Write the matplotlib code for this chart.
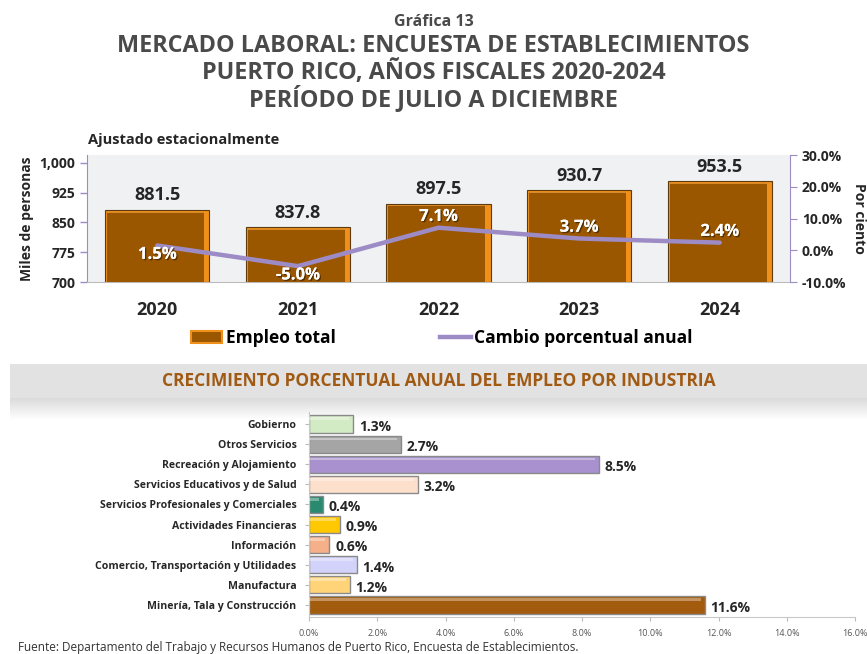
import matplotlib
matplotlib.use("Agg")
import matplotlib.pyplot as plt
import numpy as np
from matplotlib.patches import Rectangle
from matplotlib.lines import Line2D
import matplotlib.patheffects as pe

# ---------------- data ----------------
years = ["2020", "2021", "2022", "2023", "2024"]
employment = [881.5, 837.8, 897.5, 930.7, 953.5]
pct_change = [1.5, -5.0, 7.1, 3.7, 2.4]

industries = ["Minería, Tala y Construcción", "Manufactura",
              "Comercio, Transportación y Utilidades", "Información",
              "Actividades Financieras", "Servicios Profesionales y Comerciales",
              "Servicios Educativos y de Salud", "Recreación y Alojamiento",
              "Otros Servicios", "Gobierno"]
industry_growth = [11.6, 1.2, 1.4, 0.6, 0.9, 0.4, 3.2, 8.5, 2.7, 1.3]
industry_colors = ["#a35c0d", "#ffd478", "#d2d2fa", "#f5b08a", "#ffc800",
                   "#2a8a70", "#fde0cc", "#a991cf", "#a5a5a5", "#d3ebc4"]
bottom_xticks = [0, 2, 4, 6, 8, 10, 12, 14, 16]

FONT = ["Open Sans", "DejaVu Sans"]
plt.rcParams['font.family'] = FONT

TXT = "#4a4a4a"
DARK = "#262626"
PURPLE = "#9d8bc6"
BROWN = "#9a5700"

fig = plt.figure(figsize=(8.67, 6.54), dpi=100)
W, H = 867, 654

def fx(px): return px / W
def fy(py): return 1 - py / H

# ---------------- titles ----------------
fig.text(0.5, fy(22), "Gráfica 13", ha="center", va="center", fontsize=11.5,
         fontweight="bold", color=TXT)
for yy, line in zip([46, 73, 99], ["MERCADO LABORAL: ENCUESTA DE ESTABLECIMIENTOS",
                                   "PUERTO RICO, AÑOS FISCALES 2020-2024",
                                   "PERÍODO DE JULIO A DICIEMBRE"]):
    fig.text(0.5, fy(yy), line, ha="center", va="center", fontsize=16.8,
             fontweight="bold", color=TXT)

fig.text(fx(88), fy(140), "Ajustado estacionalmente", ha="left", va="center",
         fontsize=10.5, fontweight="bold", color=DARK)

# ---------------- top chart ----------------
ax = fig.add_axes([fx(87), fy(282), fx(790 - 87), (282 - 155) / H])
ax.set_facecolor("#f0f1f3")
x = np.arange(len(years))
ax.bar(x, [e - 700 for e in employment], bottom=700, width=0.74,
       color="#f0901a", edgecolor="#5e3a10", linewidth=0.8, zorder=2)
ax.bar(x - 0.012, [e - 700 - 4 for e in employment], bottom=700, width=0.69,
       color=BROWN, linewidth=0, zorder=3)
ax.bar(x - 0.012, [3 for e in employment], bottom=[e - 7 for e in employment],
       width=0.69, color="#d88a2a", linewidth=0, zorder=3)
ax.set_ylim(700, 1020)
ax.set_xlim(-0.5, 4.5)
ax.set_yticks([700, 775, 850, 925, 1000])
ax.set_yticklabels(["700", "775", "850", "925", "1,000"], fontsize=10,
                   fontweight="bold", color=DARK)
ax.set_xticks(x)
ax.set_xticklabels(years, fontsize=13, fontweight="bold", color=DARK)
ax.tick_params(axis="x", length=0, pad=14)
ax.tick_params(axis="y", length=5, color=PURPLE, width=1)
for s in ["top", "right"]:
    ax.spines[s].set_visible(False)
ax.spines["left"].set_color(PURPLE)
ax.spines["bottom"].set_color("#bbbbbb")
for xi, e in zip(x, employment):
    ax.annotate(f"{e:.1f}", (xi, e), xytext=(0, 4), textcoords="offset points",
                ha="center", va="bottom", fontsize=13, fontweight="bold", color=DARK,
                zorder=5)
ax.set_ylabel("Miles de personas", fontsize=10, fontweight="bold", color=DARK,
              labelpad=4)

ax2 = ax.twinx()
ax2.plot(x, pct_change, color=PURPLE, linewidth=3.2, zorder=6, solid_capstyle="round")
ax2.set_ylim(-10, 30)
ax2.set_yticks([-10, 0, 10, 20, 30])
ax2.set_yticklabels([f"{v:.1f}%" for v in [-10, 0, 10, 20, 30]], fontsize=10,
                    fontweight="bold", color=DARK)
ax2.tick_params(axis="y", length=5, color=PURPLE)
for s in ["top", "left", "bottom"]:
    ax2.spines[s].set_visible(False)
ax2.spines["right"].set_color(PURPLE)
ax2.set_ylabel("Por ciento", fontsize=10, fontweight="bold", color=DARK,
               rotation=-90, labelpad=14)
shadow = [pe.withSimplePatchShadow(offset=(1, -1), shadow_rgbFace="#3a2000", alpha=0.7),
          pe.Normal()]
for xi, p in zip(x, pct_change):
    off = -6 if p < 2 else 8.5
    ax2.annotate(f"{p:.1f}%", (xi, p), xytext=(0, off), textcoords="offset points",
                 ha="center", va="center", fontsize=12,
                 fontweight="bold", color="white", zorder=7, path_effects=shadow)

# legend
handles = [Rectangle((0, 0), 1, 1, facecolor=BROWN, edgecolor="#f0901a", linewidth=1.5),
           Line2D([0], [0], color=PURPLE, linewidth=3.2)]
fig.legend(handles, ["Empleo total", "Cambio porcentual anual"], loc="center",
           bbox_to_anchor=(fx(442), fy(338)), ncol=2, frameon=False,
           prop={"weight": "bold", "size": 12.5}, columnspacing=6, handlelength=1.8,
           handletextpad=0.2)

# ---------------- banner ----------------
bg = fig.add_axes([0, 0, 1, 1], zorder=-5)
bg.set_xlim(0, W)
bg.set_ylim(H, 0)
bg.axis("off")
bg.add_patch(Rectangle((10, 364), W - 10, 34, facecolor="#e2e2e2", edgecolor="none"))
grad = np.linspace(0.86, 1.0, 30).reshape(-1, 1)
bg.imshow(np.dstack([grad, grad, grad]), extent=(10, W, 420, 398), aspect="auto")
fig.text(fx(439), fy(381), "CRECIMIENTO PORCENTUAL ANUAL DEL EMPLEO POR INDUSTRIA",
         ha="center", va="center", fontsize=12.5, fontweight="bold", color="#a05a14")

# ---------------- bottom chart ----------------
bx = fig.add_axes([fx(309), fy(617), fx(855 - 309), (617 - 412) / H])
y = np.arange(len(industries))
bx.barh(y, industry_growth, height=0.86, color=industry_colors,
        edgecolor="#8a8a8a", linewidth=1.0, zorder=2)
bx.barh(y + 0.26, [max(v - 0.12, 0) for v in industry_growth], height=0.14,
        color="white", alpha=0.35, linewidth=0, zorder=3)
bx.set_xlim(0, 16)
bx.set_ylim(-0.6, 9.6)
bx.set_yticks(y)
bx.set_yticklabels(industries, fontsize=7.6, fontweight="bold", color=DARK)
bx.set_xticks(bottom_xticks)
bx.set_xticklabels([f"{v:.1f}%" for v in bottom_xticks], fontsize=6.5, color="#555555")
bx.tick_params(axis="y", length=3, color="#bbbbbb", pad=6)
bx.tick_params(axis="x", length=3, color="#bbbbbb", pad=6)
for s in ["top", "right"]:
    bx.spines[s].set_visible(False)
bx.spines["left"].set_color("#c8c8c8")
bx.spines["bottom"].set_color("#c8c8c8")
bx.set_facecolor("none")
for yi, v in zip(y, industry_growth):
    bx.annotate(f"{v:.1f}%", (v, yi), xytext=(4, -2), textcoords="offset points",
                ha="left", va="center", fontsize=10, fontweight="bold", color=DARK)

fig.text(fx(18), fy(647), "Fuente: Departamento del Trabajo y Recursos Humanos de Puerto Rico, Encuesta de Establecimientos.",
         ha="left", va="center", fontsize=8.5, color="#333333")

fig.savefig("out.png", dpi=100)
